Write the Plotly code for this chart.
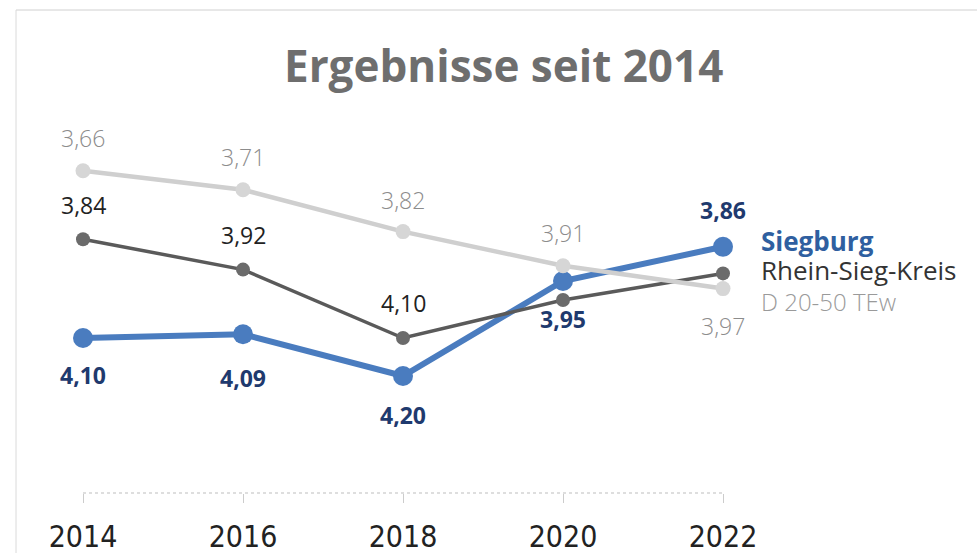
import plotly.graph_objects as go

years = [2014, 2016, 2018, 2020, 2022]
siegburg = [4.10, 4.09, 4.20, 3.95, 3.86]
rhein_sieg = [3.84, 3.92, 4.10, 4.00, 3.93]
d_20_50 = [3.66, 3.71, 3.82, 3.91, 3.97]
series_names = ["Siegburg", "Rhein-Sieg-Kreis", "D 20-50 TEw"]
tick_labels = ["2014", "2016", "2018", "2020", "2022"]
title_text = "Ergebnisse seit 2014"

def fmt(v):
    return f"{v:.2f}".replace(".", ",")

W, H = 977, 553
PLOT_H = 493
fig = go.Figure()

fig.add_trace(go.Scatter(
    x=years, y=siegburg, mode="lines+markers", name=series_names[0],
    line=dict(color="#4a7cbf", width=6),
    marker=dict(size=20, color="#4a7cbf"),
))
fig.add_trace(go.Scatter(
    x=years, y=rhein_sieg, mode="lines+markers", name=series_names[1],
    line=dict(color="#5a5a5a", width=3.5),
    marker=dict(size=14, color="#6b6b6b"),
))
fig.add_trace(go.Scatter(
    x=years, y=d_20_50, mode="lines+markers", name=series_names[2],
    line=dict(color="#cfcfcf", width=4.5),
    marker=dict(size=15, color="#d6d6d6"),
))

ann = []
font_main = "Open Sans"
d_shift = [33, 33, 32, 33, -37]
for x, v, s in zip(years, d_20_50, d_shift):
    ann.append(dict(x=x, y=v, text=fmt(v), showarrow=False, yshift=s,
                    font=dict(family=font_main, size=23, color="#8c8c8c", weight=300)))
r_shift = [34, 35, 35]
for x, v, s in zip(years[:3], rhein_sieg[:3], r_shift):
    ann.append(dict(x=x, y=v, text=fmt(v), showarrow=False, yshift=s,
                    font=dict(family=font_main, size=23, color="#222222")))
s_shift = [-37, -44, -39, -38, 37]
for x, v, s in zip(years, siegburg, s_shift):
    ann.append(dict(x=x, y=v, text="<b>" + fmt(v) + "</b>", showarrow=False, yshift=s,
                    font=dict(family=font_main, size=23, color="#1f3a6e")))

ann.append(dict(x=years[-1], y=siegburg[-1], text="<b>" + series_names[0] + "</b>",
                showarrow=False, xanchor="left", xshift=36, yshift=6,
                font=dict(family=font_main, size=26, color="#2f5fa0")))
ann.append(dict(x=years[-1], y=rhein_sieg[-1], text=series_names[1],
                showarrow=False, xanchor="left", xshift=36, yshift=3,
                font=dict(family=font_main, size=26, color="#333333")))
ann.append(dict(x=years[-1], y=d_20_50[-1], text=series_names[2],
                showarrow=False, xanchor="left", xshift=36, yshift=-13,
                font=dict(family=font_main, size=24, color="#9a9a9a", weight=300)))

ann.append(dict(x=503 / W, y=1 - 65 / PLOT_H, xref="paper", yref="paper",
                xanchor="center", yanchor="middle",
                text="<b>" + title_text + "</b>", showarrow=False,
                font=dict(family=font_main, size=44, color="#6e6e6e")))

px_per_year = 80.0
x0 = 2014 - 83 / px_per_year
x1 = x0 + W / px_per_year
px_per_unit = 380.0
y_top = 4.10 - 338 / px_per_unit
y_bot = 4.10 + (PLOT_H - 338) / px_per_unit

top_y = 1 - 10 / PLOT_H
left_x = 16 / W
shapes = [
    dict(type="line", xref="x", yref="paper", x0=years[0], x1=years[-1], y0=0, y1=0,
         line=dict(color="#bdbdbd", width=1, dash="dot")),
    dict(type="line", xref="paper", yref="paper", x0=left_x, x1=1, y0=top_y, y1=top_y,
         line=dict(color="#d0d0d0", width=1)),
    dict(type="line", xref="paper", yref="paper", x0=left_x, x1=left_x,
         y0=top_y, y1=-(H - PLOT_H) / PLOT_H, line=dict(color="#dadada", width=1)),
]

fig.update_layout(
    width=W, height=H,
    margin=dict(l=0, r=0, t=0, b=H - PLOT_H),
    paper_bgcolor="white", plot_bgcolor="white",
    showlegend=False,
    annotations=ann,
    shapes=shapes,
    xaxis=dict(range=[x0, x1], tickvals=years, ticktext=tick_labels,
               showgrid=False, zeroline=False, showline=False,
               ticks="outside", ticklen=9, tickcolor="#cccccc", tickwidth=1,
               tickfont=dict(family="DejaVu Sans Condensed, Roboto, sans-serif", size=30, color="#222222"),
               ticklabelstandoff=8),
    yaxis=dict(range=[y_bot, y_top], visible=False, showgrid=False, zeroline=False),
)

fig.write_html("out.html", config={"displayModeBar": False},
               post_script="document.body.style.margin='0px';document.body.style.overflow='hidden';")
